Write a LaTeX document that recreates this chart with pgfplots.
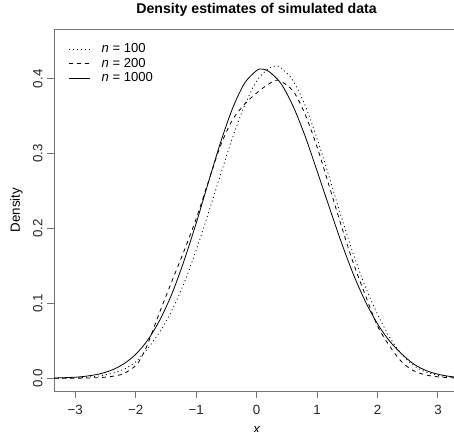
\documentclass[border=0pt]{standalone}
\usepackage{pgfplots}
\pgfplotsset{compat=1.18}
\usepackage{fontspec}
\setmainfont{Liberation Sans}
\definecolor{axgray}{gray}{0.45}
\begin{document}
\begin{tikzpicture}
\begin{axis}[
  scale only axis,
  width=303.9pt, height=271.7pt,
  xmin=-3.351, xmax=3.351,
  ymin=-0.01736, ymax=0.4664,
  clip mode=individual,
  axis line style={draw=none},
  tick style={axgray, line width=0.75pt},
  tick align=outside,
  major tick length=5.25pt,
  xtick={-3,-2,-1,0,1,2,3},
  xticklabels={−3,−2,−1,0,1,2,3},
  ytick={0,0.1,0.2,0.3,0.4},
  yticklabels={0.0,0.1,0.2,0.3,0.4},
  xtick pos=bottom, ytick pos=left,
  tick label style={font=\fontsize{10}{12}\selectfont, text=black!85},
  xticklabel style={anchor=north, inner sep=0pt, yshift=-5pt},
  yticklabel style={xshift=-3.2pt, rotate=90, anchor=south, inner sep=0pt},
  title={\bfseries Density estimates of simulated data},
  title style={font=\fontsize{10.6}{12}\selectfont, at={(axis description cs:0.5,1)}, anchor=base, yshift=5.5pt},
  xlabel={\itshape x},
  xlabel style={font=\fontsize{10}{12}\selectfont, at={(axis description cs:0.5,0)}, anchor=base, yshift=-32pt},
  ylabel={Density},
  ylabel style={font=\fontsize{10}{12}\selectfont, at={(axis description cs:-0.0925,0.5)}, anchor=center},
  legend cell align=left,
  legend style={at={(axis description cs:0.025,0.973)}, anchor=north west, draw=none, fill=none,
    font=\fontsize{9.8}{11}\selectfont, row sep=0.3pt,
    nodes={inner sep=1.2pt}},
  legend image code/.code={\draw[#1] (0pt,0pt) -- (15.75pt,0pt); \path[draw=none] (0pt,0pt) -- (23.5pt,0pt);},
]
\draw[axgray, line width=0.75pt] (rel axis cs:1,1) -- (rel axis cs:0,1) -- (rel axis cs:0,0) -- (rel axis cs:1,0);
\addplot[black, line width=0.6pt, dash pattern=on 0.75pt off 2.25pt, smooth] coordinates {
(-3.35,0.0002) (-3.0,0.0007) (-2.8,0.0016) (-2.6,0.0033) (-2.4,0.0065) (-2.2,0.012) (-2.0,0.022)
(-1.8,0.040) (-1.6,0.0624) (-1.4,0.091) (-1.2,0.127) (-1.0,0.171) (-0.8,0.220) (-0.6,0.271)
(-0.4,0.321) (-0.2,0.364) (0.0,0.397) (0.2,0.414) (0.31,0.417) (0.4,0.415) (0.6,0.398)
(0.8,0.365) (1.0,0.320) (1.2,0.269) (1.4,0.216) (1.6,0.166) (1.8,0.122) (2.0,0.0857)
(2.2,0.055) (2.4,0.032) (2.6,0.017) (2.8,0.0085) (3.0,0.004) (3.2,0.0018) (3.35,0.001)
};
\addlegendentry{\textit{n} = 100}
\addplot[black, line width=0.6pt, dash pattern=on 3pt off 3pt, smooth] coordinates {
(-3.35,0.0000) (-3.0,0.0002) (-2.8,0.0004) (-2.6,0.001) (-2.4,0.0025) (-2.2,0.0062) (-2.0,0.017)
(-1.9,0.029) (-1.8,0.046) (-1.6,0.089) (-1.4,0.130) (-1.2,0.170) (-1.0,0.213) (-0.8,0.262)
(-0.6,0.310) (-0.4,0.345) (-0.2,0.366) (0.0,0.381) (0.2,0.393) (0.36,0.398) (0.6,0.384)
(0.8,0.353) (1.0,0.309) (1.2,0.257) (1.4,0.204) (1.6,0.154) (1.8,0.1107) (2.0,0.070)
(2.2,0.043) (2.4,0.022) (2.6,0.010) (2.8,0.0045) (3.0,0.002) (3.2,0.0008) (3.35,0.0004)
};
\addlegendentry{\textit{n} = 200}
\addplot[black, line width=0.6pt, smooth] coordinates {
(-3.35,0.0004) (-3.0,0.0015) (-2.8,0.0031) (-2.6,0.0059) (-2.4,0.0109) (-2.2,0.0192) (-2.0,0.0320)
(-1.8,0.0512) (-1.6,0.078) (-1.4,0.113) (-1.2,0.157) (-1.0,0.207) (-0.8,0.261) (-0.6,0.314)
(-0.4,0.360) (-0.2,0.394) (0.0,0.411) (0.08,0.413) (0.2,0.410) (0.4,0.394) (0.6,0.364)
(0.8,0.324) (1.0,0.277) (1.2,0.229) (1.4,0.182) (1.6,0.139) (1.8,0.1025) (2.0,0.0727)
(2.2,0.0497) (2.4,0.0327) (2.6,0.019) (2.8,0.0105) (3.0,0.0055) (3.2,0.0025) (3.35,0.0013)
};
\addlegendentry{\textit{n} = 1000}
\coordinate (SW) at (rel axis cs:0,0);
\end{axis}
\pgfresetboundingbox
\useasboundingbox ([shift={(-40.5pt,-30.5pt)}]SW) rectangle +(340.5pt,324pt);
\end{tikzpicture}
\end{document}
